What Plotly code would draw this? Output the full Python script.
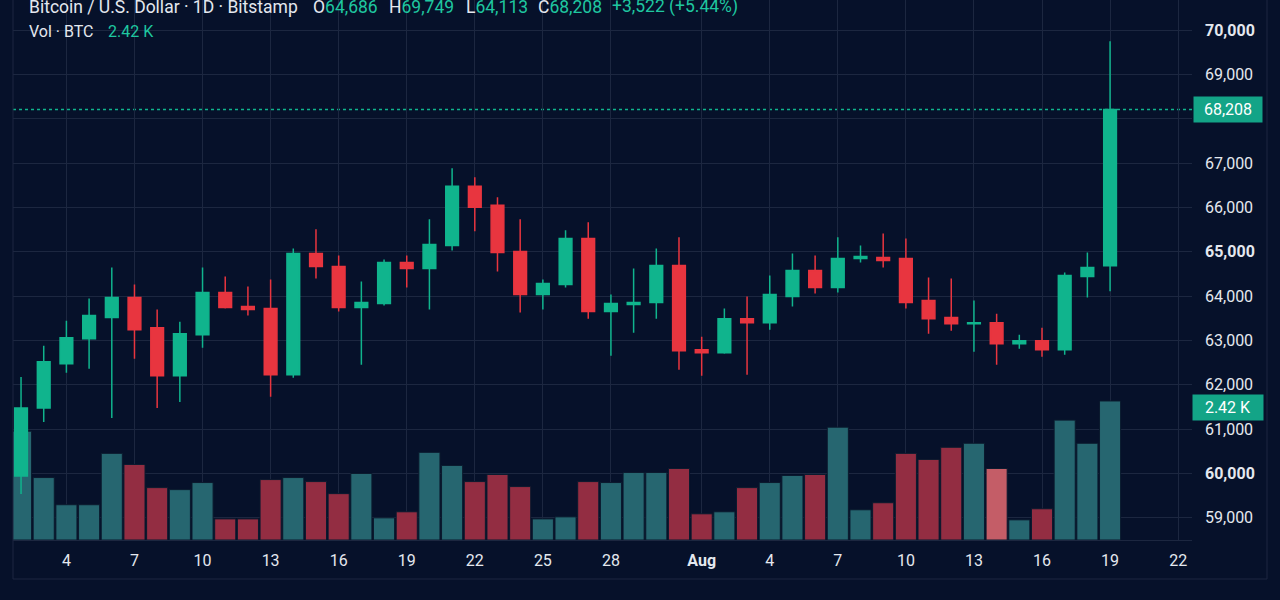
import pandas as pd
import plotly.graph_objects as go

# daily candles, Bitstamp BTC/USD
dates = pd.date_range("2024-07-02", "2024-08-19", freq="D")

open_ = [59945, 61480, 62475, 63041, 63516, 63968, 63290, 62204, 63131, 64082,
         63765, 63719, 62226, 64964, 64670, 63742, 63833, 64760, 64625, 65145,
         66480, 66050, 65009, 64036, 64262, 65303, 63652, 63810, 63855, 64692,
         62792, 62724, 63493, 63403, 63991, 64579, 64195, 64851, 64873, 64851,
         63900, 63516, 63380, 63403, 62928, 62996, 62792, 64443, 64686]
high = [62176, 62882, 63448, 63946, 64647, 64262, 63697, 63425, 64647, 64443,
        64217, 64376, 65077, 65507, 64919, 64330, 64828, 64919, 65733, 66887,
        66683, 66231, 65733, 64376, 65484, 65665, 64036, 64625, 65077, 65326,
        63086, 63720, 63991, 64466, 64964, 64919, 65326, 65145, 65416, 65303,
        64421, 64398, 63900, 63606, 63131, 63290, 64534, 64986, 69749]
low = [59539, 61163, 62272, 62362, 61253, 62588, 61480, 61615, 62837, 63719,
       63561, 61729, 62159, 64398, 63652, 62453, 63787, 64195, 63697, 65032,
       65462, 64557, 63629, 63697, 64195, 63493, 62656, 63177, 63493, 62339,
       62204, 62701, 62226, 63244, 63765, 64059, 64082, 64760, 64647, 63719,
       63154, 63222, 62747, 62453, 62815, 62634, 62679, 63968, 64113]
close = [61480, 62520, 63063, 63561, 63968, 63244, 62204, 63154, 64082, 63742,
         63697, 62226, 64964, 64670, 63742, 63855, 64760, 64625, 65167, 66480,
         66005, 64986, 64036, 64285, 65303, 63652, 63833, 63855, 64692, 62769,
         62724, 63493, 63403, 64036, 64579, 64195, 64851, 64896, 64806, 63855,
         63493, 63380, 63403, 62928, 62996, 62792, 64466, 64647, 68208]
volume = [1894, 1087, 614, 614, 1508, 1315, 912, 877, 1000, 368,
          368, 1052, 1087, 1017, 807, 1158, 386, 491, 1526, 1298,
          1017, 1140, 930, 368, 403, 1017, 1000, 1175, 1175, 1245,
          456, 491, 912, 1000, 1123, 1140, 1964, 526, 649, 1508,
          1403, 1614, 1684, 1245, 351, 544, 2087, 1684, 2420]

tick_dates = ["2024-07-04", "2024-07-07", "2024-07-10", "2024-07-13", "2024-07-16",
              "2024-07-19", "2024-07-22", "2024-07-25", "2024-07-28", "2024-08-01",
              "2024-08-04", "2024-08-07", "2024-08-10", "2024-08-13", "2024-08-16",
              "2024-08-19", "2024-08-22"]
tick_text = ["4", "7", "10", "13", "16", "19", "22", "25", "28", "<b>Aug</b>",
             "4", "7", "10", "13", "16", "19", "22"]
price_ticks = list(range(59000, 71000, 1000))
# 68,000 sits under the last-price badge
price_text = ["" if v == 68000 else (f"<b>{v:,}</b>" if v % 5000 == 0 else f"{v:,}")
              for v in price_ticks]

BG = "#06112a"
GRID = "#1c2740"
GREEN = "#10b48d"
RED = "#e8353f"
TXT = "#e4e8ef"
VAL = "#1fc7a0"

vol_colors = ["#266670" if c >= o else "#932d42" for o, c in zip(open_, close)]
vol_colors[43] = "#c45d67"   # highlighted bar (Aug 14)


# plot area in pixels: x 13..1192, y 0..540
def px_x(p):
    return (p - 13) / 1179


def px_y(p):
    return (540 - p) / 540


fig = go.Figure()
fig.add_trace(go.Bar(
    x=dates, y=volume, yaxis="y",
    marker=dict(color=vol_colors, line=dict(color="#0b1a2e", width=1)),
    hoverinfo="skip", showlegend=False))
fig.add_trace(go.Candlestick(
    x=dates, open=open_, high=high, low=low, close=close, yaxis="y2",
    increasing=dict(line=dict(color=GREEN, width=1.5), fillcolor=GREEN),
    decreasing=dict(line=dict(color=RED, width=1.5), fillcolor=RED),
    whiskerwidth=0, showlegend=False))

font = dict(family="Roboto", size=16, color=TXT)

fig.update_layout(
    width=1280, height=600,
    margin=dict(l=13, r=88, t=0, b=60),
    paper_bgcolor=BG, plot_bgcolor=BG,
    bargap=0.07, boxgap=0.2,
    font=font,
    xaxis=dict(type="date", range=["2024-07-01 15:30", "2024-08-22 14:40"],
               tickvals=tick_dates, ticktext=tick_text, tickfont=font,
               showgrid=True, gridcolor=GRID, gridwidth=1, zeroline=False,
               showline=True, linecolor=GRID, ticks="", ticklabelstandoff=6,
               rangeslider=dict(visible=False)),
    yaxis=dict(range=[0, 9400], visible=False),
    yaxis2=dict(overlaying="y", side="right", range=[58500, 70680],
                tickvals=price_ticks, ticktext=price_text, tickfont=font,
                showgrid=True, gridcolor=GRID, gridwidth=1, zeroline=False,
                ticks="", ticklabelstandoff=12),
)

# last price line + labels
fig.add_shape(type="line", xref="paper", yref="y2", x0=0, x1=1, y0=close[-1], y1=close[-1],
              line=dict(color=GREEN, width=1.5, dash="dot"), layer="below")
fig.add_annotation(x=1, xref="paper", xanchor="left", xshift=1, y=close[-1], yref="y2",
                   text=f"{close[-1]:,}", showarrow=False, bgcolor="#13a487",
                   font=dict(family="Roboto", size=16, color="white"),
                   width=64, height=21, borderpad=2)
fig.add_annotation(x=1, xref="paper", xanchor="left", xshift=0, y=volume[-1], yref="y",
                   yshift=-7, text="2.42 K", showarrow=False, bgcolor="#13a487",
                   font=dict(family="Roboto", size=16, color="white"),
                   width=66, height=21, borderpad=2)

# pane frame
for x0, y0, x1, y1 in [(13, 0, 13, 579), (13, 579, 1267, 579), (1267, 0, 1267, 579)]:
    fig.add_shape(type="line", xref="paper", yref="paper",
                  x0=px_x(x0), x1=px_x(x1), y0=px_y(y0), y1=px_y(y1),
                  line=dict(color=GRID, width=1))

# header legend
row1 = [(27, "Bitcoin / U.S. Dollar · 1D · Bitstamp"),
        (311, f"O<span style='color:{VAL}'>64,686</span>"),
        (387, f"H<span style='color:{VAL}'>69,749</span>"),
        (464, f"L<span style='color:{VAL}'>64,113</span>"),
        (536, f"C<span style='color:{VAL}'>68,208</span>"),
        (610, f"<span style='color:{VAL}'>+3,522 (+5.44%)</span>")]
for x, t in row1:
    fig.add_annotation(x=px_x(x), y=px_y(7), xref="paper", yref="paper", xanchor="left",
                       yanchor="middle", text=t, showarrow=False,
                       font=dict(family="Roboto", size=17.5, color=TXT))
row2 = [(27, "Vol · BTC"), (106, f"<span style='color:{VAL}'>2.42 K</span>")]
for x, t in row2:
    fig.add_annotation(x=px_x(x), y=px_y(32), xref="paper", yref="paper", xanchor="left",
                       yanchor="middle", text=t, showarrow=False,
                       font=dict(family="Roboto", size=16, color=TXT))

fig.write_html("out.html", config={"displayModeBar": False},
               post_script="document.body.style.margin = '0px';")
